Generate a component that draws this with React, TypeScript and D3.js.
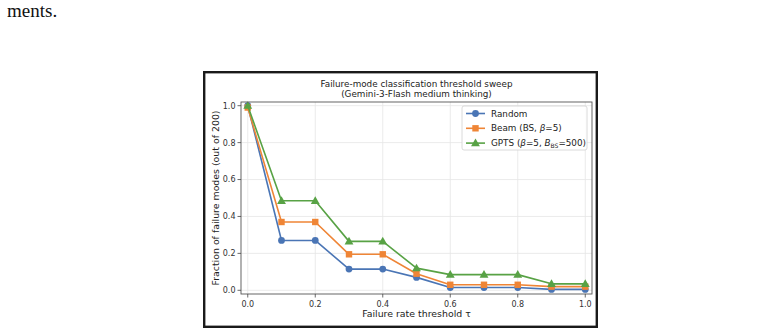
import React from "react";
import * as d3 from "d3";

// Failure-rate thresholds swept along the x axis
const thresholds = [0.0, 0.1, 0.2, 0.3, 0.4, 0.5, 0.6, 0.7, 0.8, 0.9, 1.0];

// Fraction of the 200 failure modes retained at each threshold
const randomValues = [1.0, 0.27, 0.27, 0.115, 0.115, 0.07, 0.015, 0.015, 0.015, 0.005, 0.005];
const beamValues = [0.99, 0.37, 0.37, 0.195, 0.195, 0.09, 0.03, 0.03, 0.03, 0.02, 0.02];
const gptsValues = [1.0, 0.485, 0.485, 0.265, 0.265, 0.12, 0.085, 0.085, 0.085, 0.035, 0.035];

const xTicks = [0, 0.2, 0.4, 0.6, 0.8, 1.0];
const yTicks = [0, 0.2, 0.4, 0.6, 0.8, 1.0];

const W = 775;
const H = 333;
const plot = { left: 241, right: 592, top: 102, bottom: 294 };
const FONT = "DejaVu Sans, sans-serif";

type Series = {
  key: string;
  values: number[];
  color: string;
  marker: "circle" | "square" | "triangle";
};

const series: Series[] = [
  { key: "random", values: randomValues, color: "#4a75b5", marker: "circle" },
  { key: "beam", values: beamValues, color: "#ef8536", marker: "square" },
  { key: "gpts", values: gptsValues, color: "#58a245", marker: "triangle" },
];

function Marker({ kind, x, y, color }: { kind: Series["marker"]; x: number; y: number; color: string }) {
  if (kind === "circle") return <circle cx={x} cy={y} r={3.4} fill={color} />;
  if (kind === "square") return <rect x={x - 3.2} y={y - 3.2} width={6.4} height={6.4} fill={color} />;
  const s = d3.symbol().type(d3.symbolTriangle).size(34)();
  return <path d={s || ""} transform={`translate(${x},${y + 0.6})`} fill={color} />;
}

export default function App() {
  const x = d3.scaleLinear().domain([-0.02, 1.02]).range([plot.left, plot.right]);
  const y = d3.scaleLinear().domain([-0.02, 1.02]).range([plot.bottom, plot.top]);
  const line = d3
    .line<number>()
    .x((_, i) => x(thresholds[i]))
    .y((d) => y(d));

  const cx = (plot.left + plot.right) / 2;
  const cy = (plot.top + plot.bottom) / 2;

  const legendX = 462;
  const legendY = 106;
  const legendItems = [
    { s: series[0], label: <tspan>Random</tspan> },
    {
      s: series[1],
      label: (
        <>
          <tspan>Beam (BS, </tspan>
          <tspan fontStyle="italic">β</tspan>
          <tspan>=5)</tspan>
        </>
      ),
    },
    {
      s: series[2],
      label: (
        <>
          <tspan>GPTS (</tspan>
          <tspan fontStyle="italic">β</tspan>
          <tspan>=5, </tspan>
          <tspan fontStyle="italic">B</tspan>
          <tspan fontSize={6} dy={1.8}>BS</tspan>
          <tspan dy={-1.8}>=500)</tspan>
        </>
      ),
    },
  ];

  return (
    <svg
      width={W}
      height={H}
      viewBox={`0 0 ${W} ${H}`}
      style={{ position: "absolute", left: 0, top: 0, background: "#fff" }}
    >
      <text x={7} y={17} fontFamily="Liberation Serif, Times New Roman, serif" fontSize={19} fill="#111">
        ments.
      </text>

      {/* figure frame */}
      <rect x={204.2} y={72.2} width={392.6} height={254.6} fill="#fff" stroke="#1a1a1a" strokeWidth={2.4} />

      {/* title */}
      <text x={cx} y={87} textAnchor="middle" fontFamily={FONT} fontSize={8.8} fill="#222">
        Failure-mode classification threshold sweep
      </text>
      <text x={cx} y={97.2} textAnchor="middle" fontFamily={FONT} fontSize={8.8} fill="#222">
        (Gemini-3-Flash medium thinking)
      </text>

      {/* grid */}
      <g stroke="#e6e6e6" strokeWidth={0.8}>
        {xTicks.map((t) => (
          <line key={`gx${t}`} x1={x(t)} x2={x(t)} y1={plot.top} y2={plot.bottom} />
        ))}
        {yTicks.map((t) => (
          <line key={`gy${t}`} x1={plot.left} x2={plot.right} y1={y(t)} y2={y(t)} />
        ))}
      </g>

      {/* series */}
      {series.map((s) => (
        <g key={s.key}>
          <path d={line(s.values) || ""} fill="none" stroke={s.color} strokeWidth={1.6} strokeLinejoin="round" />
          {s.values.map((v, i) => (
            <Marker key={i} kind={s.marker} x={x(thresholds[i])} y={y(v)} color={s.color} />
          ))}
        </g>
      ))}

      {/* spines */}
      <rect
        x={plot.left}
        y={plot.top}
        width={plot.right - plot.left}
        height={plot.bottom - plot.top}
        fill="none"
        stroke="#555"
        strokeWidth={0.9}
      />

      {/* x ticks */}
      {xTicks.map((t) => (
        <g key={`xt${t}`}>
          <line x1={x(t)} x2={x(t)} y1={plot.bottom} y2={plot.bottom + 3.5} stroke="#444" strokeWidth={0.8} />
          <text x={x(t)} y={plot.bottom + 12.8} textAnchor="middle" fontFamily={FONT} fontSize={8} fill="#333">
            {t.toFixed(1)}
          </text>
        </g>
      ))}
      {/* y ticks */}
      {yTicks.map((t) => (
        <g key={`yt${t}`}>
          <line x1={plot.left - 3.5} x2={plot.left} y1={y(t)} y2={y(t)} stroke="#444" strokeWidth={0.8} />
          <text x={plot.left - 5.5} y={y(t) + 2.9} textAnchor="end" fontFamily={FONT} fontSize={8} fill="#333">
            {t.toFixed(1)}
          </text>
        </g>
      ))}

      {/* axis labels */}
      <text x={cx} y={316.5} textAnchor="middle" fontFamily={FONT} fontSize={9.4} fill="#222">
        Failure rate threshold τ
      </text>
      <text
        transform={`translate(218.5,${cy}) rotate(-90)`}
        textAnchor="middle"
        fontFamily={FONT}
        fontSize={9.4}
        fill="#222"
      >
        Fraction of failure modes (out of 200)
      </text>

      {/* legend */}
      <rect x={legendX} y={legendY} width={125} height={44} rx={2} fill="#fff" fillOpacity={0.85} stroke="#d0d0d0" strokeWidth={0.8} />
      {legendItems.map((it, i) => {
        const ly = legendY + 7.5 + i * 14.8;
        return (
          <g key={it.s.key}>
            <line x1={legendX + 4} x2={legendX + 23} y1={ly} y2={ly} stroke={it.s.color} strokeWidth={1.6} />
            <Marker kind={it.s.marker} x={legendX + 13.5} y={ly} color={it.s.color} />
            <text x={legendX + 29} y={ly + 3.1} fontFamily={FONT} fontSize={8.8} fill="#222">
              {it.label}
            </text>
          </g>
        );
      })}
    </svg>
  );
}
